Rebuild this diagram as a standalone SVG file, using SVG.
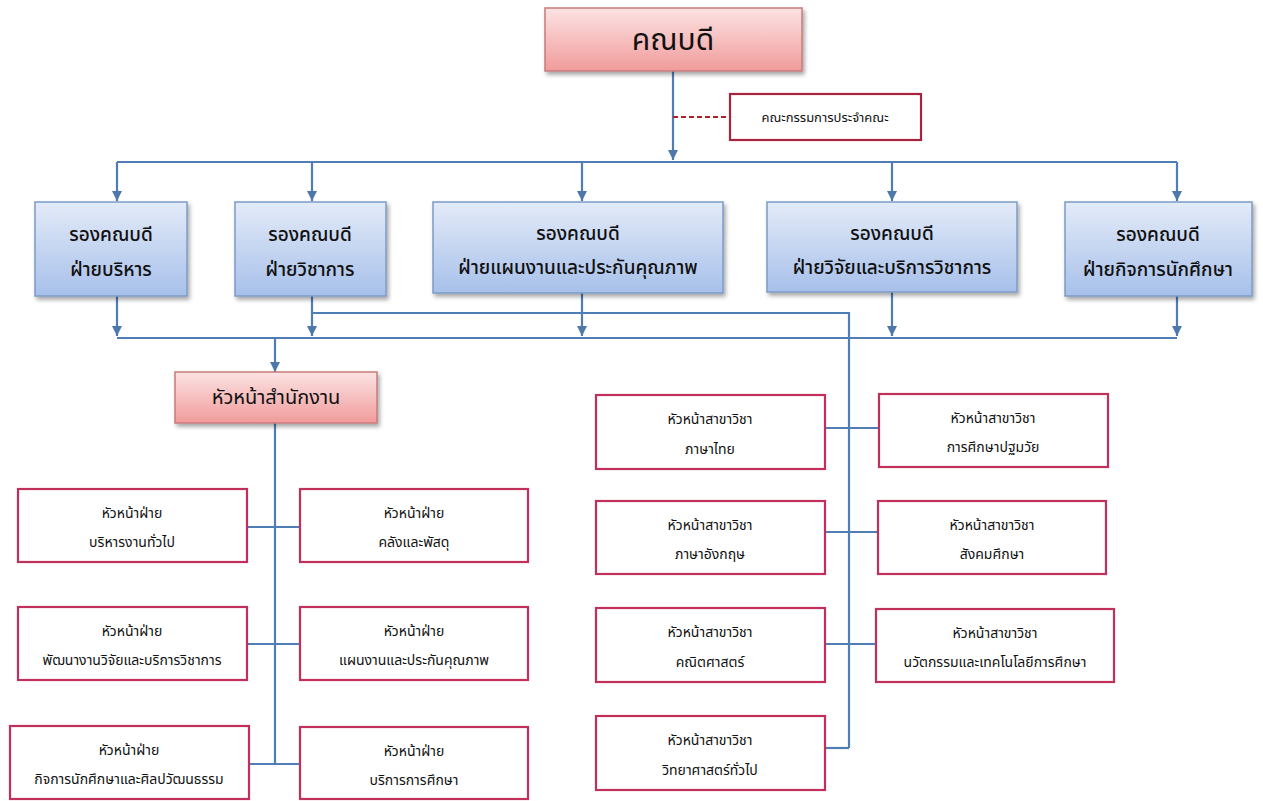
<svg xmlns="http://www.w3.org/2000/svg" width="1263" height="801" viewBox="0 0 1263 801">
<defs>
<linearGradient id="gBlue" x1="0" y1="0" x2="0" y2="1">
<stop offset="0" stop-color="#e3ebf8"/>
<stop offset="1" stop-color="#a7c0ea"/>
</linearGradient>
<linearGradient id="gPink" x1="0" y1="0" x2="0" y2="1">
<stop offset="0" stop-color="#fce3e3"/>
<stop offset="1" stop-color="#f19b9b"/>
</linearGradient>
<filter id="sh" x="-10%" y="-10%" width="125%" height="135%">
<feDropShadow dx="2" dy="3" stdDeviation="2" flood-color="#000" flood-opacity="0.35"/>
</filter>
<marker id="arr" markerUnits="userSpaceOnUse" markerWidth="10" markerHeight="10" refX="10" refY="5" orient="auto">
<path d="M0,0 L10,5 L0,10 z" fill="#4f78aa"/>
</marker>
</defs>
<style>
text{font-family:"Noto Sans Thai","Noto Sans","DejaVu Sans",sans-serif;fill:#111;text-anchor:middle;}
.blue{fill:url(#gBlue);stroke:#7c9bc6;stroke-width:1.5;filter:url(#sh);}
.pink{fill:url(#gPink);stroke:#c77b7b;stroke-width:1.5;filter:url(#sh);}
.red{fill:#fff;stroke:#c0305a;stroke-width:2.2;}
.ln{fill:none;stroke:#4f7db5;stroke-width:2.2;}
.ar{marker-end:url(#arr);}
.dash{fill:none;stroke:#b0202a;stroke-width:2;stroke-dasharray:5 3;}
.t1{font-size:19px;font-weight:500;}
.t2{font-size:14px;}
</style>
<rect width="1263" height="801" fill="#fff"/>

<g id="connectors">
<line class="ln ar" x1="673" y1="71" x2="673" y2="160"/>
<line class="dash" x1="673" y1="117" x2="730" y2="117"/>
<line class="ln" x1="117" y1="162" x2="1177" y2="162"/>
<line class="ln ar" x1="117" y1="162" x2="117" y2="201"/>
<line class="ln ar" x1="312" y1="162" x2="312" y2="201"/>
<line class="ln ar" x1="582" y1="162" x2="582" y2="201"/>
<line class="ln ar" x1="892" y1="162" x2="892" y2="201"/>
<line class="ln ar" x1="1177" y1="162" x2="1177" y2="201"/>
<line class="ln ar" x1="117" y1="296" x2="117" y2="336"/>
<line class="ln ar" x1="312" y1="296" x2="312" y2="336"/>
<line class="ln ar" x1="582" y1="293" x2="582" y2="336"/>
<line class="ln ar" x1="892" y1="292" x2="892" y2="336"/>
<line class="ln ar" x1="1177" y1="296" x2="1177" y2="336"/>
<line class="ln" x1="117" y1="338" x2="1177" y2="338"/>
<polyline class="ln" points="312,313 849,313 849,748"/>
<line class="ln ar" x1="275" y1="338" x2="275" y2="372"/>
<line class="ln" x1="275" y1="423" x2="275" y2="764"/>
<line class="ln" x1="247" y1="527" x2="300" y2="527"/>
<line class="ln" x1="247" y1="644" x2="300" y2="644"/>
<line class="ln" x1="249" y1="764" x2="300" y2="764"/>
<line class="ln" x1="825" y1="428" x2="879" y2="428"/>
<line class="ln" x1="825" y1="532" x2="878" y2="532"/>
<line class="ln" x1="825" y1="644" x2="876" y2="644"/>
<line class="ln" x1="825" y1="748" x2="849" y2="748"/>
</g>

<g id="dean">
<rect class="pink" x="545" y="8" width="257" height="63"/>
<text x="673" y="50" font-size="30">คณบดี</text>
</g>
<g id="committee">
<rect class="red" x="730" y="94" width="191" height="46" style="stroke:#a8243e"/>
<text x="825" y="122" font-size="13">คณะกรรมการประจำคณะ</text>
</g>

<g id="vp-admin">
<rect class="blue" x="35" y="202" width="152" height="94"/>
<text class="t1" x="111" y="241">รองคณบดี</text>
<text class="t1" x="111" y="276">ฝ่ายบริหาร</text>
</g>
<g id="vp-academic">
<rect class="blue" x="235" y="202" width="151" height="94"/>
<text class="t1" x="310" y="241">รองคณบดี</text>
<text class="t1" x="310" y="276">ฝ่ายวิชาการ</text>
</g>
<g id="vp-plan">
<rect class="blue" x="433" y="202" width="290" height="91"/>
<text class="t1" x="578" y="240">รองคณบดี</text>
<text class="t1" x="578" y="274">ฝ่ายแผนงานและประกันคุณภาพ</text>
</g>
<g id="vp-research">
<rect class="blue" x="767" y="202" width="250" height="90"/>
<text class="t1" x="892" y="240">รองคณบดี</text>
<text class="t1" x="892" y="274">ฝ่ายวิจัยและบริการวิชาการ</text>
</g>
<g id="vp-student">
<rect class="blue" x="1065" y="202" width="187" height="94"/>
<text class="t1" x="1158" y="241">รองคณบดี</text>
<text class="t1" x="1158" y="276">ฝ่ายกิจการนักศึกษา</text>
</g>

<g id="office-head">
<rect class="pink" x="175" y="372" width="202" height="51"/>
<text x="276" y="404" font-size="20">หัวหน้าสำนักงาน</text>
</g>

<g id="l1">
<rect class="red" x="18" y="489" width="229" height="73"/>
<text class="t2" x="132" y="518">หัวหน้าฝ่าย</text>
<text class="t2" x="132" y="547">บริหารงานทั่วไป</text>
</g>
<g id="r1">
<rect class="red" x="300" y="489" width="228" height="73"/>
<text class="t2" x="414" y="518">หัวหน้าฝ่าย</text>
<text class="t2" x="414" y="547">คลังและพัสดุ</text>
</g>
<g id="l2">
<rect class="red" x="18" y="607" width="229" height="73"/>
<text class="t2" x="132" y="636">หัวหน้าฝ่าย</text>
<text class="t2" x="132" y="665">พัฒนางานวิจัยและบริการวิชาการ</text>
</g>
<g id="r2">
<rect class="red" x="300" y="607" width="228" height="73"/>
<text class="t2" x="414" y="636">หัวหน้าฝ่าย</text>
<text class="t2" x="414" y="665">แผนงานและประกันคุณภาพ</text>
</g>
<g id="l3">
<rect class="red" x="10" y="726" width="239" height="73"/>
<text class="t2" x="129" y="755">หัวหน้าฝ่าย</text>
<text class="t2" x="129" y="784">กิจการนักศึกษาและศิลปวัฒนธรรม</text>
</g>
<g id="r3">
<rect class="red" x="300" y="727" width="228" height="72"/>
<text class="t2" x="414" y="756">หัวหน้าฝ่าย</text>
<text class="t2" x="414" y="785">บริการการศึกษา</text>
</g>

<g id="thai">
<rect class="red" x="596" y="395" width="229" height="74"/>
<text class="t2" x="710" y="424">หัวหน้าสาขาวิชา</text>
<text class="t2" x="710" y="454">ภาษาไทย</text>
</g>
<g id="english">
<rect class="red" x="596" y="501" width="229" height="73"/>
<text class="t2" x="710" y="530">หัวหน้าสาขาวิชา</text>
<text class="t2" x="710" y="559">ภาษาอังกฤษ</text>
</g>
<g id="math">
<rect class="red" x="596" y="608" width="229" height="74"/>
<text class="t2" x="710" y="637">หัวหน้าสาขาวิชา</text>
<text class="t2" x="710" y="667">คณิตศาสตร์</text>
</g>
<g id="science">
<rect class="red" x="596" y="716" width="229" height="74"/>
<text class="t2" x="710" y="745">หัวหน้าสาขาวิชา</text>
<text class="t2" x="710" y="775">วิทยาศาสตร์ทั่วไป</text>
</g>
<g id="early">
<rect class="red" x="879" y="394" width="229" height="73"/>
<text class="t2" x="993" y="423">หัวหน้าสาขาวิชา</text>
<text class="t2" x="993" y="452">การศึกษาปฐมวัย</text>
</g>
<g id="social">
<rect class="red" x="878" y="501" width="228" height="73"/>
<text class="t2" x="992" y="530">หัวหน้าสาขาวิชา</text>
<text class="t2" x="992" y="559">สังคมศึกษา</text>
</g>
<g id="innovation">
<rect class="red" x="876" y="609" width="238" height="73"/>
<text class="t2" x="995" y="638">หัวหน้าสาขาวิชา</text>
<text class="t2" x="995" y="667">นวัตกรรมและเทคโนโลยีการศึกษา</text>
</g>
</svg>
